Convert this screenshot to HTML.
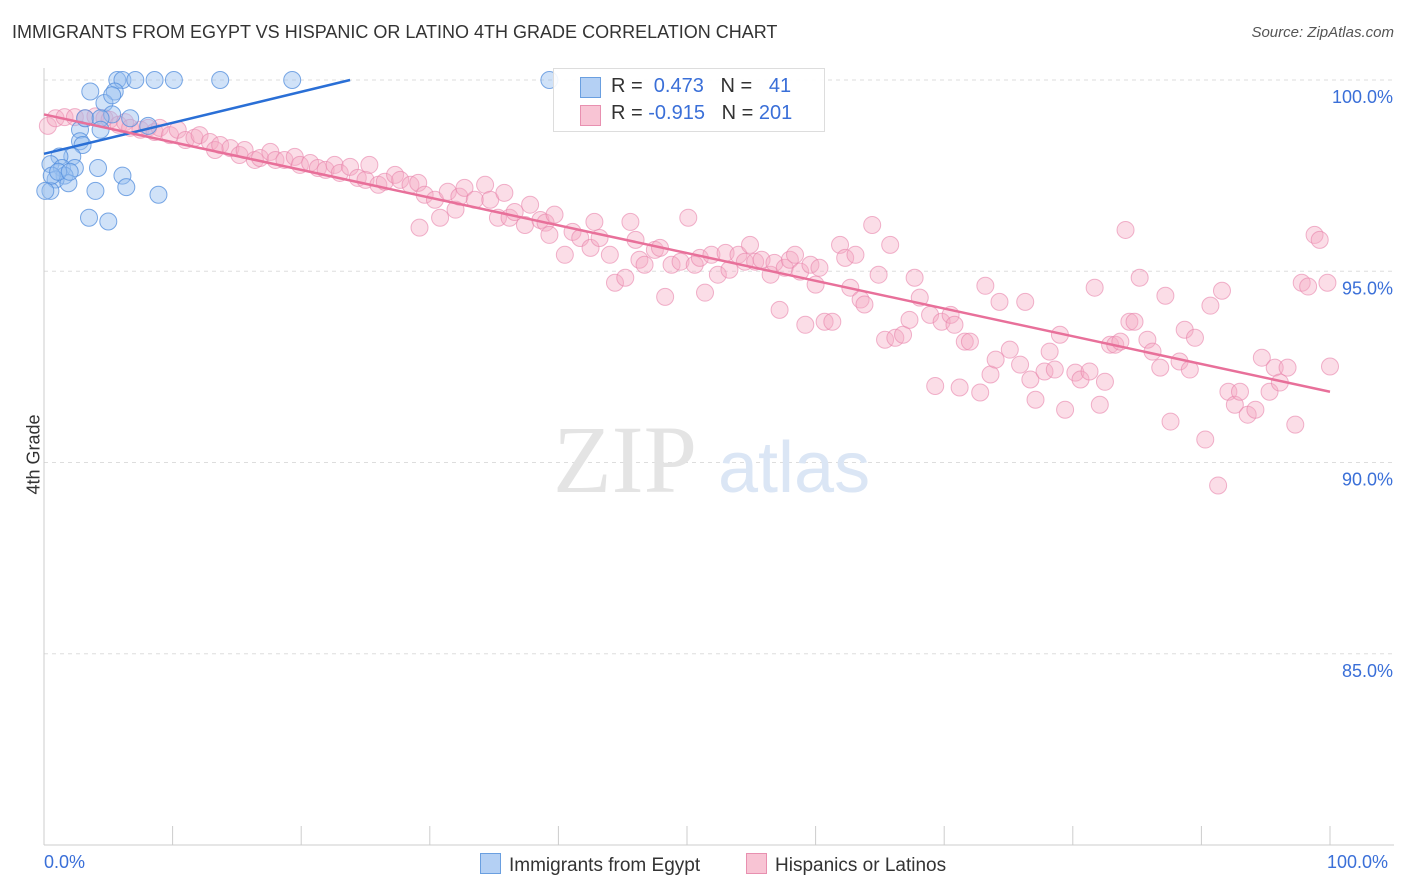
<!DOCTYPE html>
<html><head><meta charset="utf-8">
<style>
body{margin:0;background:#fff;font-family:"Liberation Sans",sans-serif;}
#wrap{position:relative;width:1406px;height:892px;overflow:hidden;}
.t{position:absolute;white-space:nowrap;}
</style></head>
<body>
<div id="wrap">
<div class="t" style="left:12px;top:22px;font-size:18px;color:#333;">IMMIGRANTS FROM EGYPT VS HISPANIC OR LATINO 4TH GRADE CORRELATION CHART</div>
<div class="t" style="right:12px;top:24px;font-size:15px;color:#555;font-style:italic;">Source: ZipAtlas.com</div>
<svg id="svg" width="1406" height="892" style="position:absolute;left:0;top:0"></svg>
</div>
<script>
const yTicks=[100,95,90,85];
const yTickLabels=["100.0%","95.0%","90.0%","85.0%"];
const xTicks=[0,10,20,30,40,50,60,70,80,90,100];
const blueX=[5.7,6.1,7.1,8.6,10.1,13.7,19.3,39.3,3.6,5.5,4.7,5.3,6.7,5.3,2.8,3.2,2.8,3.0,2.2,1.2,0.5,1.4,2.4,1.6,0.9,0.5,0.1,1.9,4.2,6.1,6.4,4.0,8.9,3.5,5.0,8.1,4.4,0.6,1.1,2.0,4.4];
const blueY=[100,100,100,100,100,100,100,100,99.7,99.7,99.4,99.6,99.0,99.1,98.7,99.0,98.4,98.3,98.0,98.0,97.8,97.7,97.7,97.5,97.4,97.1,97.1,97.3,97.7,97.5,97.2,97.1,97.0,96.4,96.3,98.8,99.0,97.5,97.6,97.6,98.7];
const pinkX=[0.3,0.9,1.6,2.4,3.2,4.0,4.7,5.1,5.8,6.3,6.7,7.5,8.1,8.6,9.0,9.8,10.4,11.0,11.7,12.1,12.9,13.3,13.7,14.5,15.2,15.6,16.4,16.8,17.6,18.0,18.7,19.5,19.9,20.7,21.3,21.9,22.6,23.0,23.8,24.4,25.0,25.3,26.0,26.5,27.3,27.7,28.5,29.1,29.2,29.6,30.4,30.8,31.4,32.0,32.3,32.7,33.5,34.3,34.7,35.3,35.8,36.2,36.6,37.4,37.8,38.6,39.0,39.3,39.7,40.5,41.1,41.7,42.5,42.8,43.2,44.0,44.4,45.2,45.6,46.0,46.3,46.7,47.5,47.9,48.3,48.8,49.5,50.1,50.6,51.0,51.4,51.9,52.4,53.0,53.3,54.0,54.5,54.9,55.3,55.8,56.5,56.8,57.2,57.6,58.0,58.4,58.8,59.2,59.6,60.0,60.3,60.7,61.3,61.9,62.3,62.7,63.1,63.5,63.8,64.4,64.9,65.4,65.8,66.2,66.8,67.3,67.7,68.1,68.9,69.3,69.8,70.5,70.8,71.2,71.6,72.0,72.8,73.2,73.6,74.0,74.3,75.1,75.9,76.3,76.7,77.1,77.8,78.2,78.6,79.0,79.4,80.2,80.6,81.3,81.7,82.1,82.5,82.9,83.3,83.7,84.1,84.4,84.8,85.2,85.8,86.2,86.8,87.2,87.6,88.3,88.7,89.1,89.5,90.3,90.7,91.3,91.6,92.1,92.6,93.0,93.6,94.2,94.7,95.3,95.7,96.1,96.7,97.3,97.8,98.3,98.8,99.2,99.8,100.0];
const pinkY=[98.8,99.0,99.03,99.03,99.0,99.05,99.0,98.96,98.83,98.9,98.75,98.7,98.75,98.64,98.75,98.56,98.7,98.43,98.49,98.56,98.38,98.17,98.3,98.22,98.04,98.17,97.91,97.96,98.12,97.91,97.91,97.99,97.78,97.83,97.7,97.65,97.78,97.57,97.73,97.44,97.39,97.78,97.26,97.34,97.52,97.39,97.26,97.31,96.14,97.0,96.87,96.4,97.08,96.61,96.95,97.18,96.87,97.26,96.87,96.4,97.05,96.4,96.55,96.21,96.74,96.34,96.27,95.95,96.48,95.43,96.03,95.87,95.61,96.29,95.87,95.43,94.7,94.83,96.29,95.82,95.3,95.17,95.56,95.61,94.33,95.17,95.25,96.4,95.17,95.35,94.44,95.43,94.91,95.48,95.04,95.43,95.25,95.69,95.25,95.3,94.91,95.22,93.99,95.09,95.3,95.43,94.99,93.6,95.17,94.65,95.09,93.68,93.68,95.69,95.35,94.57,95.43,94.26,94.13,96.21,94.91,93.21,95.69,93.26,93.34,93.73,94.83,94.31,93.86,92.0,93.68,93.86,93.6,91.96,93.16,93.16,91.83,94.62,92.3,92.69,94.2,92.95,92.56,94.2,92.17,91.64,92.38,92.9,92.43,93.34,91.38,92.35,92.17,92.38,94.57,91.51,92.11,93.08,93.08,93.16,96.08,93.68,93.68,94.83,93.21,92.9,92.48,94.36,91.07,92.64,93.47,92.43,93.26,90.6,94.1,89.4,94.49,91.85,91.51,91.85,91.25,91.38,92.74,91.85,92.48,92.09,92.48,90.99,94.7,94.6,95.95,95.82,94.7,92.51];
const blueTrendX=[0,23.8], blueTrendY=[98.07,100];
const pinkTrendX=[0,100], pinkTrendY=[99.1,91.85];

const X0=44,X1=1330,Ytop=80,Ybot=845;
const sx=v=>X0+(X1-X0)*v/100;
const sy=v=>Ytop+(100-v)*(Ybot-Ytop)/20;
const svg=document.getElementById('svg');
const NS='http://www.w3.org/2000/svg';
function mk(tag,attrs,parent){const e=document.createElementNS(NS,tag);for(const k in attrs)e.setAttribute(k,attrs[k]);(parent||svg).appendChild(e);return e;}

// gridlines
yTicks.forEach((t,i)=>{
 const g=mk('line',{x1:X0,x2:1394,y1:sy(t),y2:sy(t),stroke:'#ddd','stroke-dasharray':'4,4'});
 
 
 const tx=mk('text',{x:1393,y:sy(t)+23,'text-anchor':'end','font-size':'18',fill:'#3a6fd8','font-family':'Liberation Sans, sans-serif'});
 tx.textContent=yTickLabels[i];
 
 
});
mk('line',{x1:X0,x2:X0,y1:68,y2:Ybot,stroke:'#ccc'});
const xa=mk('line',{x1:X0,x2:1394,y1:Ybot,y2:Ybot,stroke:'#ccc'});


xTicks.forEach(t=>{
 const l=mk('line',{x1:sx(t),x2:sx(t),y1:826,y2:Ybot,stroke:'#ccc'});
 
 
});
// watermark
const wm=mk('text',{x:553,y:492,'font-size':'96','font-family':'Liberation Serif, serif',fill:'#e4e4e4'});wm.textContent='ZIP';


const wm2=mk('text',{x:718,y:492,'font-size':'72','font-family':'Liberation Sans, sans-serif',fill:'#dbe6f5'});wm2.textContent='atlas';



pinkX.forEach((v,i)=>{
 const c=mk('circle',{cx:sx(v),cy:sy(pinkY[i]),r:8.5,fill:'rgba(244,170,196,0.4)',stroke:'rgba(232,130,170,0.6)','stroke-width':1});
 
 
});
blueX.forEach((v,i)=>{
 const c=mk('circle',{cx:sx(v),cy:sy(blueY[i]),r:8.5,fill:'rgba(150,190,240,0.45)',stroke:'rgba(80,140,220,0.75)','stroke-width':1});
 
 
});
const bt=mk('line',{x1:sx(blueTrendX[0]),y1:sy(blueTrendY[0]),x2:sx(blueTrendX[1]),y2:sy(blueTrendY[1]),stroke:'#2a6fd6','stroke-width':2.5});


const pt=mk('line',{x1:sx(pinkTrendX[0]),y1:sy(pinkTrendY[0]),x2:sx(pinkTrendX[1]),y2:sy(pinkTrendY[1]),stroke:'#e8709a','stroke-width':2.5});


</script>
<div class="t" style="left:-6px;top:444px;font-size:18px;color:#333;transform:rotate(-90deg);">4th Grade</div>
<div class="t" style="left:44px;top:852px;font-size:18px;color:#3a6fd8;">0.0%</div>
<div class="t" style="left:1327px;top:852px;font-size:18px;color:#3a6fd8;">100.0%</div>
<div style="position:absolute;left:553px;top:68px;width:270px;height:62px;border:1px solid #ddd;background:rgba(255,255,255,0.9);font-size:20px;">
 <div style="position:absolute;left:26px;top:8px;width:19px;height:19px;background:#b4d0f4;border:1px solid #6a9fe0;"></div>
 <div class="t" style="left:57px;top:6px;color:#333;">R = <span style="color:#3a6fd8">&nbsp;0.473</span>&nbsp;&nbsp;&nbsp;N = <span style="color:#3a6fd8">&nbsp;&nbsp;41</span></div>
 <div style="position:absolute;left:26px;top:36px;width:19px;height:19px;background:#f8c4d4;border:1px solid #e890b0;"></div>
 <div class="t" style="left:57px;top:33px;color:#333;">R = <span style="color:#3a6fd8">-0.915</span>&nbsp;&nbsp;&nbsp;N = <span style="color:#3a6fd8">201</span></div>
</div>
<div style="position:absolute;left:480px;top:853px;font-size:19px;color:#333;">
 <span style="display:inline-block;width:19px;height:19px;background:#b4d0f4;border:1px solid #6a9fe0;vertical-align:-3px;margin-right:8px;"></span>Immigrants from Egypt</div>
<div style="position:absolute;left:746px;top:853px;font-size:19px;color:#333;">
 <span style="display:inline-block;width:19px;height:19px;background:#f8c4d4;border:1px solid #e890b0;vertical-align:-3px;margin-right:8px;"></span>Hispanics or Latinos</div>
</body></html>
